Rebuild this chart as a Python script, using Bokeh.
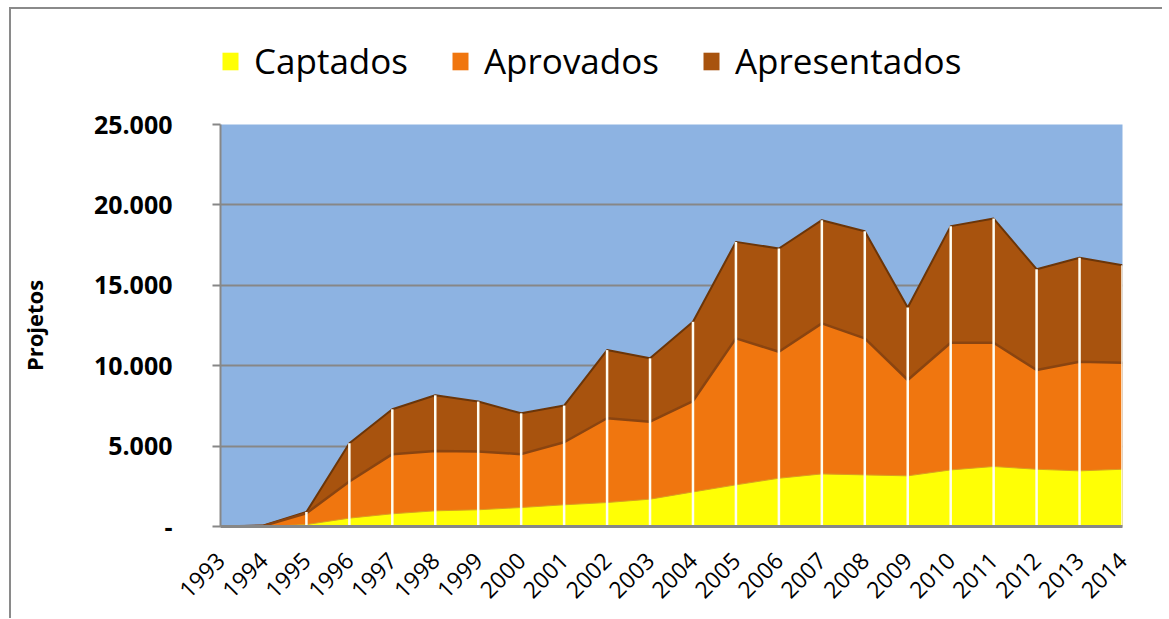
import math
from bokeh.plotting import figure
from bokeh.models import FixedTicker, Legend, LegendItem
from bokeh.layouts import column
from bokeh.embed import file_html
from bokeh.resources import INLINE

years = list(range(1993, 2015))
apresentados = [0, 60, 900, 5180, 7290, 8160, 7770, 7040, 7520, 10970, 10460, 12730,
                17700, 17290, 19050, 18360, 13620, 18680, 19150, 16000, 16710, 16250]
aprovados = [0, 40, 820, 2800, 4500, 4700, 4660, 4500, 5240, 6730, 6520, 7800,
             11700, 10870, 12630, 11700, 9110, 11430, 11430, 9730, 10250, 10190]
captados = [0, 0, 120, 520, 790, 975, 1040, 1180, 1350, 1490, 1700, 2150,
            2590, 3000, 3270, 3210, 3150, 3520, 3730, 3560, 3460, 3560]
series_names = ["Captados", "Aprovados", "Apresentados"]
series_colors = ["#FFFF05", "#F0760F", "#A8530E"]
y_ticks = [0, 5000, 10000, 15000, 20000, 25000]
y_tick_labels = ["-", "5.000", "10.000", "15.000", "20.000", "25.000"]

FONT = "Open Sans"
W = 209 + 902 + 40

# ---- legend strip ----
lg = figure(width=W, height=92, output_backend="svg", toolbar_location=None,
            x_axis_type=None, y_axis_type=None, x_range=(0, 1), y_range=(0, 1),
            min_border=0)
lg.outline_line_color = None
lg.grid.grid_line_color = None
lg.background_fill_color = "white"
lg.border_fill_color = "white"
items = []
for name, col in zip(series_names, series_colors):
    r = lg.varea(x=[0, 0], y1=[0, 0], y2=[0, 0], fill_color=col)
    items.append(LegendItem(label=name, renderers=[r]))
legend = Legend(items=items, orientation="horizontal", location=(0, 17))
legend.label_text_font = FONT
legend.label_text_font_size = "35px"
legend.label_text_color = "black"
legend.glyph_width = 20
legend.glyph_height = 22
legend.spacing = 42
legend.label_standoff = 14
legend.border_line_color = None
legend.background_fill_alpha = 0
legend.padding = 0
legend.margin = 0
lg.add_layout(legend, "center")

# ---- main chart ----
p = figure(frame_width=902, frame_height=402, output_backend="svg", toolbar_location=None,
           x_range=(1993, 2014), y_range=(0, 25000),
           min_border_left=209, min_border_right=40, min_border_top=23, min_border_bottom=92)
p.background_fill_color = "#8DB3E2"
p.border_fill_color = "white"
p.outline_line_color = None

# areas (overlapping, largest first)
p.varea(x=years, y1=0, y2=apresentados, fill_color=series_colors[2])
p.line(years, apresentados, line_color="#6B3508", line_width=2)
p.varea(x=years, y1=0, y2=aprovados, fill_color=series_colors[1])
p.line(years, aprovados, line_color="#8A4410", line_width=2.5)
p.varea(x=years, y1=0, y2=captados, fill_color=series_colors[0])
p.line(years, captados, line_color="#D9A020", line_width=1)

# drop lines
p.segment(x0=years, y0=[0] * len(years), x1=years, y1=apresentados,
          line_color="#FFFDF2", line_width=2.5)

p.yaxis.ticker = FixedTicker(ticks=y_ticks)
p.yaxis.major_label_overrides = {t: l for t, l in zip(y_ticks, y_tick_labels)}
p.yaxis.major_label_text_font = FONT
p.yaxis.major_label_text_font_style = "bold"
p.yaxis.major_label_text_font_size = "25px"
p.yaxis.major_label_text_color = "black"
p.yaxis.major_label_standoff = 40
p.yaxis.major_tick_out = 8
p.yaxis.major_tick_in = 0
p.yaxis.major_tick_line_color = "#878787"
p.yaxis.major_tick_line_width = 2
p.yaxis.minor_tick_line_color = None
p.yaxis.axis_line_color = "#878787"
p.yaxis.axis_line_width = 2
p.yaxis.axis_label = "Projetos"
p.yaxis.axis_label_text_font = FONT
p.yaxis.axis_label_text_font_style = "bold"
p.yaxis.axis_label_text_font_size = "22px"
p.yaxis.axis_label_text_color = "black"
p.yaxis.axis_label_standoff = 42

p.xaxis.ticker = FixedTicker(ticks=years)
p.xaxis.major_label_orientation = math.pi / 4
p.xaxis.major_label_text_font = FONT
p.xaxis.major_label_text_font_size = "23px"
p.xaxis.major_label_text_color = "black"
p.xaxis.major_label_standoff = 30
p.xaxis.major_tick_out = 0
p.xaxis.major_tick_in = 0
p.xaxis.minor_tick_line_color = None
p.xaxis.axis_line_color = "#878787"
p.xaxis.axis_line_width = 3

p.xgrid.grid_line_color = None
p.ygrid.ticker = FixedTicker(ticks=y_ticks)
p.ygrid.grid_line_color = "#878787"
p.ygrid.grid_line_width = 2

layout = column(lg, p, spacing=0)
layout.styles = {"margin-left": "9px", "margin-top": "7px",
                 "border-left": "2px solid #8a8a8a", "border-top": "2px solid #8a8a8a"}

open("out.html", "w").write(file_html(layout, INLINE))
